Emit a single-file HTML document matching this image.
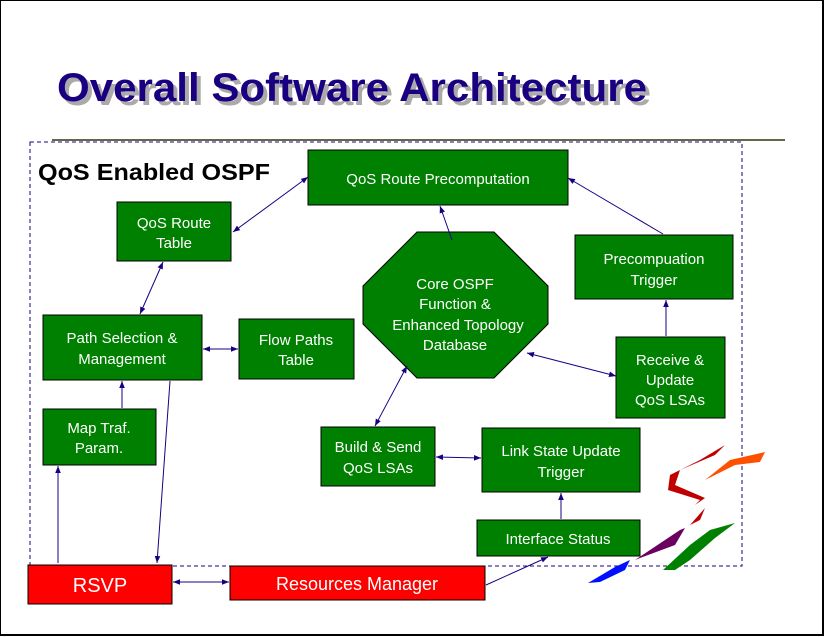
<!DOCTYPE html>
<html><head><style>
body{margin:0;background:#fff}
svg{display:block}
text{font-family:"Liberation Sans",sans-serif}
.w{fill:#fff;font-size:15px;text-anchor:middle}
</style></head><body>
<svg width="825" height="637" viewBox="0 0 825 637">
<defs>
<marker id="a" viewBox="0 0 10 10" refX="10" refY="5" markerWidth="7" markerHeight="7" orient="auto-start-reverse"><path d="M0,1L10,5L0,9z" fill="#1a0080"/></marker>
</defs>
<rect x="0" y="0" width="823" height="635" fill="#fff" stroke="#000" stroke-width="2"/>
<text x="61" y="105" font-size="40" font-weight="bold" fill="#aaa" textLength="590" lengthAdjust="spacingAndGlyphs">Overall Software Architecture</text>
<text x="57" y="101" font-size="40" font-weight="bold" fill="#1a0080" textLength="590" lengthAdjust="spacingAndGlyphs">Overall Software Architecture</text>
<line x1="52" y1="140" x2="785" y2="140" stroke="#666644" stroke-width="2"/>
<rect x="30" y="142" width="712" height="424" fill="none" stroke="#1a0080" stroke-dasharray="4,3"/>
<text x="38" y="180" font-size="23" font-weight="bold" fill="#000" textLength="232" lengthAdjust="spacingAndGlyphs">QoS Enabled OSPF</text>
<g fill="#008000" stroke="#000">
<rect x="308" y="150" width="260" height="55"/>
<rect x="117" y="202" width="114" height="59"/>
<rect x="43" y="315" width="159" height="65"/>
<rect x="239" y="319" width="115" height="60"/>
<rect x="43" y="409" width="113" height="56"/>
<polygon points="417,232 494,232 548,286 548,324 494,378 417,378 363,324 363,286"/>
<rect x="575" y="235" width="158" height="64"/>
<rect x="616" y="337" width="109" height="81"/>
<rect x="321" y="427" width="114" height="59"/>
<rect x="482" y="428" width="158" height="64"/>
<rect x="477" y="520" width="163" height="36"/>
</g>
<g fill="#f00" stroke="#000">
<rect x="28" y="565" width="144" height="39"/>
<rect x="230" y="566" width="255" height="34"/>
</g>
<g class="w">
<text x="438" y="184">QoS Route Precomputation</text>
<text x="174" y="228">QoS Route</text><text x="174" y="248">Table</text>
<text x="122" y="343">Path Selection &amp;</text><text x="122" y="364">Management</text>
<text x="296" y="345">Flow Paths</text><text x="296" y="365">Table</text>
<text x="99" y="433">Map Traf.</text><text x="99" y="453">Param.</text>
<text x="455" y="289">Core OSPF</text><text x="455" y="309">Function &amp;</text><text x="458" y="330">Enhanced Topology</text><text x="455" y="350">Database</text>
<text x="654" y="264">Precompuation</text><text x="654" y="285">Trigger</text>
<text x="670" y="365">Receive &amp;</text><text x="670" y="385">Update</text><text x="670" y="405">QoS LSAs</text>
<text x="378" y="452">Build &amp; Send</text><text x="378" y="473">QoS LSAs</text>
<text x="561" y="456">Link State Update</text><text x="561" y="477">Trigger</text>
<text x="558" y="544">Interface Status</text>
<text x="100" y="592" font-size="20">RSVP</text>
<text x="357" y="590" font-size="18">Resources Manager</text>
</g>
<g stroke="#1a0080" stroke-width="1" fill="none">
<line x1="233" y1="232" x2="308" y2="177" marker-start="url(#a)" marker-end="url(#a)"/>
<line x1="663" y1="234" x2="568" y2="178" marker-end="url(#a)"/>
<line x1="452" y1="240" x2="440" y2="206" marker-end="url(#a)"/>
<line x1="163" y1="262" x2="140" y2="314" marker-start="url(#a)" marker-end="url(#a)"/>
<line x1="203" y1="349" x2="238" y2="349" marker-start="url(#a)" marker-end="url(#a)"/>
<line x1="122" y1="408" x2="122" y2="381" marker-end="url(#a)"/>
<line x1="58" y1="563" x2="58" y2="466" marker-end="url(#a)"/>
<line x1="170" y1="381" x2="157" y2="563" marker-end="url(#a)"/>
<line x1="666" y1="336" x2="666" y2="300" marker-end="url(#a)"/>
<line x1="616" y1="376" x2="527" y2="353" marker-start="url(#a)" marker-end="url(#a)"/>
<line x1="375" y1="426" x2="407" y2="366" marker-start="url(#a)" marker-end="url(#a)"/>
<line x1="436" y1="457" x2="481" y2="458" marker-start="url(#a)" marker-end="url(#a)"/>
<line x1="561" y1="519" x2="561" y2="493" marker-end="url(#a)"/>
<line x1="173" y1="582" x2="229" y2="582" marker-start="url(#a)" marker-end="url(#a)"/>
<line x1="486" y1="585" x2="548" y2="557" marker-end="url(#a)"/>
</g>
<g>
<path d="M588,583 L615,567 L630,560 L625,570 L600,582z" fill="#0010ff"/>
<path d="M635,560 L680,530 L685,528 L675,545 L640,558z" fill="#6a0060"/>
<path d="M690,525 L705,508 L700,520z" fill="#c00000"/>
<path d="M725,445 L700,460 L670,475 L668,490 L700,500 L690,510 L695,505 L705,498 L675,485 L680,470 L715,455z" fill="#c00000"/>
<path d="M705,480 L730,460 L765,452 L760,462 L735,465z" fill="#ff5000"/>
<path d="M663,570 L690,545 L710,530 L735,523 L715,538 L690,560 L675,570z" fill="#008000"/>
</g>
</svg>
</body></html>
